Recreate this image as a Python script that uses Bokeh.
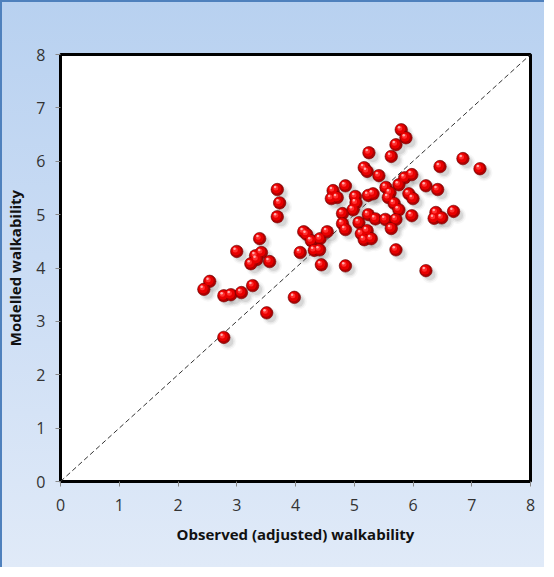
from bokeh.plotting import figure
from bokeh.models import Range1d, FixedTicker
from bokeh.embed import file_html
from bokeh.resources import INLINE
import numpy as np

observed = [
    3.69, 3.73, 3.69, 3.39, 3.00, 3.42, 3.32, 3.34, 3.24, 3.56, 2.54, 2.44, 2.78, 2.90, 3.08, 3.27, 3.51, 2.78, 3.98,
    5.25, 5.17, 5.22, 5.42, 4.85, 4.64, 4.71, 4.61, 5.02, 5.03, 4.98, 5.24, 5.32, 4.80, 4.80, 4.85, 5.08, 5.24, 5.36,
    5.53, 5.12, 5.22, 5.17, 5.29, 4.14, 4.19, 4.27, 4.42, 4.54, 4.08, 4.32, 4.41, 4.44, 4.85,
    5.80, 5.88, 5.71, 5.63, 6.85, 7.14, 6.46, 5.86, 5.98, 5.76, 6.22, 6.42, 5.54, 5.61, 5.58, 5.93, 6.00, 5.68,
    5.76, 5.98, 6.39, 6.36, 6.49, 6.69, 5.71, 5.63, 5.71, 6.22,
]
modelled = [
    5.47, 5.22, 4.96, 4.55, 4.31, 4.29, 4.23, 4.16, 4.08, 4.12, 3.75, 3.60, 3.48, 3.50, 3.54, 3.67, 3.16, 2.70, 3.45,
    6.16, 5.88, 5.81, 5.73, 5.54, 5.45, 5.32, 5.30, 5.34, 5.22, 5.09, 5.36, 5.39, 5.02, 4.83, 4.72, 4.85, 5.00, 4.92,
    4.91, 4.64, 4.70, 4.53, 4.55, 4.68, 4.63, 4.51, 4.55, 4.68, 4.29, 4.33, 4.34, 4.06, 4.04,
    6.59, 6.44, 6.31, 6.09, 6.05, 5.86, 5.90, 5.69, 5.75, 5.56, 5.54, 5.47, 5.51, 5.41, 5.32, 5.39, 5.30, 5.21,
    5.09, 4.98, 5.04, 4.93, 4.94, 5.06, 4.91, 4.74, 4.34, 3.95,
]
ticks = [0, 1, 2, 3, 4, 5, 6, 7, 8]
diag = [0, 8]

W, H = 544, 567
ML, MT, MR, MB = 56, 52, 16, 88
FW = W - ML - MR
FH = H - MT - MB
px_x = 8.0 / FW
px_y = 8.0 / FH

p = figure(width=W, height=H, output_backend="svg", toolbar_location=None,
           x_range=Range1d(0, 8), y_range=Range1d(0, 8),
           min_border_left=ML, min_border_top=MT, min_border_right=MR, min_border_bottom=MB)
p.border_fill_color = None
p.background_fill_color = "white"
p.styles = {"background": "linear-gradient(to bottom, #B8D1F0 0%, #CADCF4 45%, #E0EAF8 100%)",
            "border-left": "2px solid #4F81BD", "border-top": "2px solid #4F81BD"}
p.outline_line_color = "black"
p.outline_line_width = 3
p.grid.visible = False

for ax in (p.xaxis[0], p.yaxis[0]):
    ax.ticker = FixedTicker(ticks=ticks)
    ax.axis_line_color = None
    ax.major_tick_line_color = "#888888"
    ax.major_tick_in = 0
    ax.major_tick_out = 5
    ax.minor_tick_line_color = None
    ax.major_label_text_font = "Open Sans"
    ax.major_label_text_font_size = "16px"
    ax.major_label_text_color = "#333333"
    ax.axis_label_text_font = "Open Sans"
    ax.axis_label_text_font_style = "bold"
    ax.axis_label_text_font_size = "15px"
    ax.axis_label_text_color = "#111111"

p.xaxis.axis_label = "Observed (adjusted) walkability"
p.yaxis.axis_label = "Modelled walkability"
p.xaxis.major_label_standoff = 12
p.xaxis.axis_label_standoff = 10
p.yaxis.major_label_standoff = 10
p.yaxis.axis_label_standoff = 8

p.line(diag, diag, line_color="#333333", line_dash="5 3", line_width=1)

ox = np.array(observed)
oy = np.array(modelled)

# soft shadows
for s, a in ((17, 0.05), (14, 0.09), (11, 0.13)):
    p.scatter(ox + 4 * px_x, oy - 4 * px_y, size=s, fill_color="#606060", fill_alpha=a, line_color=None)
# sphere body
p.scatter(ox, oy, size=12.5, fill_color="#B00000", line_color="#700000", line_width=0.6)
p.scatter(ox - 0.8 * px_x, oy + 0.8 * px_y, size=9.5, fill_color="#E80000", line_color=None)
p.scatter(ox - 1.5 * px_x, oy + 1.5 * px_y, size=5, fill_color="#FF3030", line_color=None)
p.scatter(ox - 2.2 * px_x, oy + 2.6 * px_y, size=2.5, fill_color="#FFB0B0", line_color=None)

open("out.html", "w").write(file_html(p, INLINE))
